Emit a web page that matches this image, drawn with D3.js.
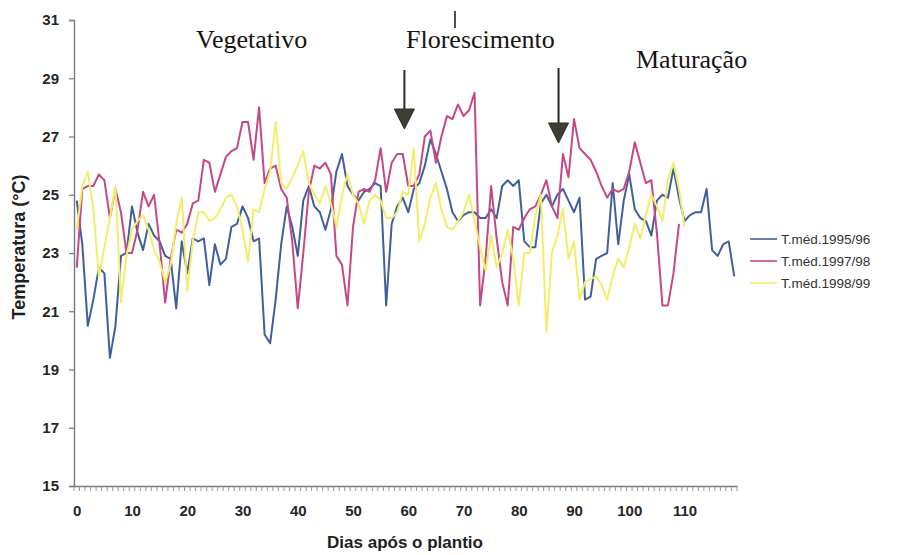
<!DOCTYPE html>
<html>
<head>
<meta charset="utf-8">
<script src="https://cdn.jsdelivr.net/npm/d3@7"></script>
<style>
  html, body { margin: 0; padding: 0; background: #ffffff; }
  svg { display: block; }
</style>
</head>
<body>
<svg id="chart" width="901" height="555"></svg>
<script>
// Daily mean temperature (°C) by days after planting, three seasons
const series1995 = [
  24.8, 23.3, 20.5, 21.4, 22.5, 22.3, 19.4, 20.5, 22.9, 23.0,
  24.6, 23.7, 23.1, 24.0, 23.6, 23.4, 22.9, 22.8, 21.1, 23.4,
  22.3, 23.5, 23.4, 23.5, 21.9, 23.3, 22.6, 22.8, 23.9, 24.0,
  24.6, 24.2, 23.4, 23.5, 20.2, 19.9, 21.4, 23.3, 24.6, 23.9,
  22.9, 24.8, 25.3, 24.6, 24.4, 23.8, 24.5, 25.8, 26.4, 25.3,
  25.0, 24.8, 25.1, 25.2, 25.4, 25.3, 21.2, 24.0, 24.6, 24.9,
  24.4, 25.2, 25.4, 26.0, 26.9, 26.4, 25.8, 25.2, 24.4, 24.1,
  24.3, 24.4, 24.4, 24.2, 24.2, 24.5, 24.2, 25.3, 25.5, 25.3,
  25.5, 23.4, 23.2, 23.2, 24.7, 25.0, 24.6, 25.0, 25.2, 24.8,
  24.4, 24.9, 21.4, 21.5, 22.8, 22.9, 23.0, 25.4, 23.3, 24.8,
  25.7, 24.5, 24.2, 24.1, 23.6, 24.8, 25.0, 24.9, 25.9, 24.9,
  24.1, 24.3, 24.4, 24.4, 25.2, 23.1, 22.9, 23.3, 23.4, 22.2
];

const series1997 = [
  22.5, 25.2, 25.3, 25.3, 25.7, 25.5, 24.2, 25.2, 24.4, 23.0,
  23.0, 23.8, 25.1, 24.6, 25.0, 23.3, 21.3, 22.8, 23.8, 23.7,
  24.0, 24.7, 24.8, 26.2, 26.1, 25.1, 25.7, 26.3, 26.5, 26.6,
  27.5, 27.5, 26.2, 28.0, 25.4, 25.9, 26.0, 25.2, 24.9, 23.4,
  21.1, 23.0, 25.1, 26.0, 25.9, 26.1, 25.7, 22.9, 22.6, 21.2,
  23.9, 25.1, 25.2, 25.1, 25.5, 26.6, 25.1, 26.1, 26.4, 26.4,
  25.3, 25.3, 25.7, 27.0, 27.2, 26.1, 27.0, 27.7, 27.6, 28.1,
  27.7, 27.9, 28.5, 21.2, 22.8, 25.3, 23.5, 22.0, 21.2, 23.9,
  23.8, 24.2, 24.5, 24.6, 25.0, 25.5, 24.6, 24.2, 26.4, 25.6,
  27.6, 26.6, 26.4, 26.2, 25.8, 25.3, 24.9, 25.2, 25.1, 25.2,
  25.8, 26.8, 26.1, 25.4, 25.5, 23.7, 21.2, 21.2, 22.3, 24.0
];

const series1998 = [
  23.8, 25.3, 25.8, 24.5, 22.2, 23.2, 24.2, 25.3, 21.3, 22.9,
  23.8, 24.1, 24.3, 23.8, 23.1, 22.7, 22.0, 22.6, 24.0, 24.9,
  21.7, 23.4, 24.4, 24.4, 24.1, 24.2, 24.5, 24.9, 25.0, 24.6,
  23.8, 22.7, 24.5, 24.4, 25.2, 25.8, 27.5, 25.4, 25.2, 25.6,
  26.0, 26.5, 25.4, 25.0, 24.7, 25.3, 24.7, 23.9, 25.0, 25.7,
  25.0, 24.7, 24.0, 24.8, 25.0, 24.8, 24.2, 24.2, 24.4, 25.1,
  25.0, 26.6, 23.4, 24.0, 24.9, 25.4, 24.5, 23.9, 23.8, 24.1,
  24.4, 25.0, 24.1, 23.2, 22.4, 23.6, 22.5, 23.0, 23.8, 22.8,
  21.2, 23.0, 23.0, 24.3, 25.0, 20.3, 23.0, 23.6, 24.5, 22.8,
  23.4, 21.4, 22.0, 22.1, 22.2, 21.9, 21.4, 22.2, 22.8, 22.5,
  23.2, 24.0, 23.5, 24.3, 25.0, 24.6, 24.1, 25.5, 26.1, 25.2,
  23.9
];

const seriesNames = ["T.méd.1995/96", "T.méd.1997/98", "T.méd.1998/99"];
const seriesColors = ["#40609c", "#c54886", "#f2ee6c"];
const yTicks = [15, 17, 19, 21, 23, 25, 27, 29, 31];
const xTicks = [0, 10, 20, 30, 40, 50, 60, 70, 80, 90, 100, 110];

// Crop stage labels and the days where the stage arrows sit
const stageLabels = ["Vegetativo", "Florescimento", "Maturação"];
const stageArrowDays = [59.3, 87.2];

const svg = d3.select("#chart");

const x = d3.scaleLinear().domain([-0.5, 119.5]).range([74, 737]);
const y = d3.scaleLinear().domain([15, 31]).range([486, 20]);

// Y axis
const yAxis = svg.append("g")
  .attr("transform", "translate(74,0)")
  .call(d3.axisLeft(y).tickValues(yTicks).tickSize(5).tickPadding(10).tickFormat(d3.format("d")));
yAxis.select(".domain").attr("stroke", "#7a7a7a").attr("stroke-width", 1.4);
yAxis.selectAll(".tick line").attr("stroke", "#7a7a7a").attr("stroke-width", 1.2);
yAxis.selectAll(".tick text")
  .attr("font-family", "Liberation Sans, Arial, sans-serif")
  .attr("font-size", 15).attr("font-weight", "bold").attr("fill", "#262626");

// X axis with labels every 10 days
const xAxis = svg.append("g")
  .attr("transform", "translate(0,486)")
  .call(d3.axisBottom(x).tickValues(xTicks).tickSize(0).tickPadding(19).tickFormat(d3.format("d")));
xAxis.select(".domain").attr("stroke", "#7a7a7a").attr("stroke-width", 1.4);
xAxis.selectAll(".tick text")
  .attr("font-family", "Liberation Sans, Arial, sans-serif")
  .attr("font-size", 15).attr("font-weight", "bold").attr("fill", "#262626");

// Daily tick marks between categories
svg.append("g").selectAll("line")
  .data(d3.range(-0.5, 120, 1))
  .join("line")
  .attr("x1", d => x(d)).attr("x2", d => x(d))
  .attr("y1", 486).attr("y2", 491)
  .attr("stroke", "#8a8a8a").attr("stroke-width", 0.9);

// Axis titles
svg.append("text")
  .attr("transform", "translate(25,247) rotate(-90)")
  .attr("text-anchor", "middle")
  .attr("font-family", "Liberation Sans, Arial, sans-serif")
  .attr("font-size", 18).attr("font-weight", "bold").attr("fill", "#1e1e1e")
  .text("Temperatura (°C)");

svg.append("text")
  .attr("x", 405).attr("y", 548)
  .attr("text-anchor", "middle")
  .attr("font-family", "Liberation Sans, Arial, sans-serif")
  .attr("font-size", 17).attr("font-weight", "bold").attr("fill", "#1e1e1e")
  .text("Dias após o plantio");

// Temperature lines
const line = d3.line().x((d, i) => x(i)).y(d => y(d));
[series1995, series1997, series1998].forEach((s, k) => {
  svg.append("path")
    .datum(s)
    .attr("fill", "none")
    .attr("stroke", seriesColors[k])
    .attr("stroke-width", 2)
    .attr("stroke-linejoin", "round")
    .attr("d", line);
});

// Stage labels
const serif = "Liberation Serif, Times New Roman, serif";
const stagePos = [[196, 48], [406, 48], [636, 68]];
svg.append("g").selectAll("text")
  .data(stageLabels)
  .join("text")
  .attr("x", (d, i) => stagePos[i][0])
  .attr("y", (d, i) => stagePos[i][1])
  .attr("font-family", serif).attr("font-size", 26).attr("fill", "#151515")
  .text(d => d);

// Small mark above the flowering label
svg.append("line")
  .attr("x1", 455).attr("x2", 455).attr("y1", 11).attr("y2", 28)
  .attr("stroke", "#222").attr("stroke-width", 1.6);

// Stage arrows
const arrowTops = [70, 68];
const arrowTips = [129, 143];
stageArrowDays.forEach((d, i) => {
  const ax = x(d);
  const tip = arrowTips[i];
  svg.append("line")
    .attr("x1", ax).attr("x2", ax)
    .attr("y1", arrowTops[i]).attr("y2", tip - 18)
    .attr("stroke", "#2b2b2b").attr("stroke-width", 2);
  svg.append("path")
    .attr("d", `M${ax - 10},${tip - 20} L${ax + 10},${tip - 20} L${ax},${tip} Z`)
    .attr("fill", "#3b3e31").attr("stroke", "#2b2b2b").attr("stroke-width", 1);
});

// Legend
const legend = svg.append("g");
seriesNames.forEach((name, i) => {
  const ly = 239 + i * 22;
  legend.append("line")
    .attr("x1", 750).attr("x2", 777).attr("y1", ly).attr("y2", ly)
    .attr("stroke", seriesColors[i]).attr("stroke-width", 1.6);
  legend.append("text")
    .attr("x", 781).attr("y", ly).attr("dy", "0.35em")
    .attr("font-family", "Liberation Sans, Arial, sans-serif")
    .attr("font-size", 13.5).attr("fill", "#333")
    .text(name);
});
</script>
</body>
</html>
